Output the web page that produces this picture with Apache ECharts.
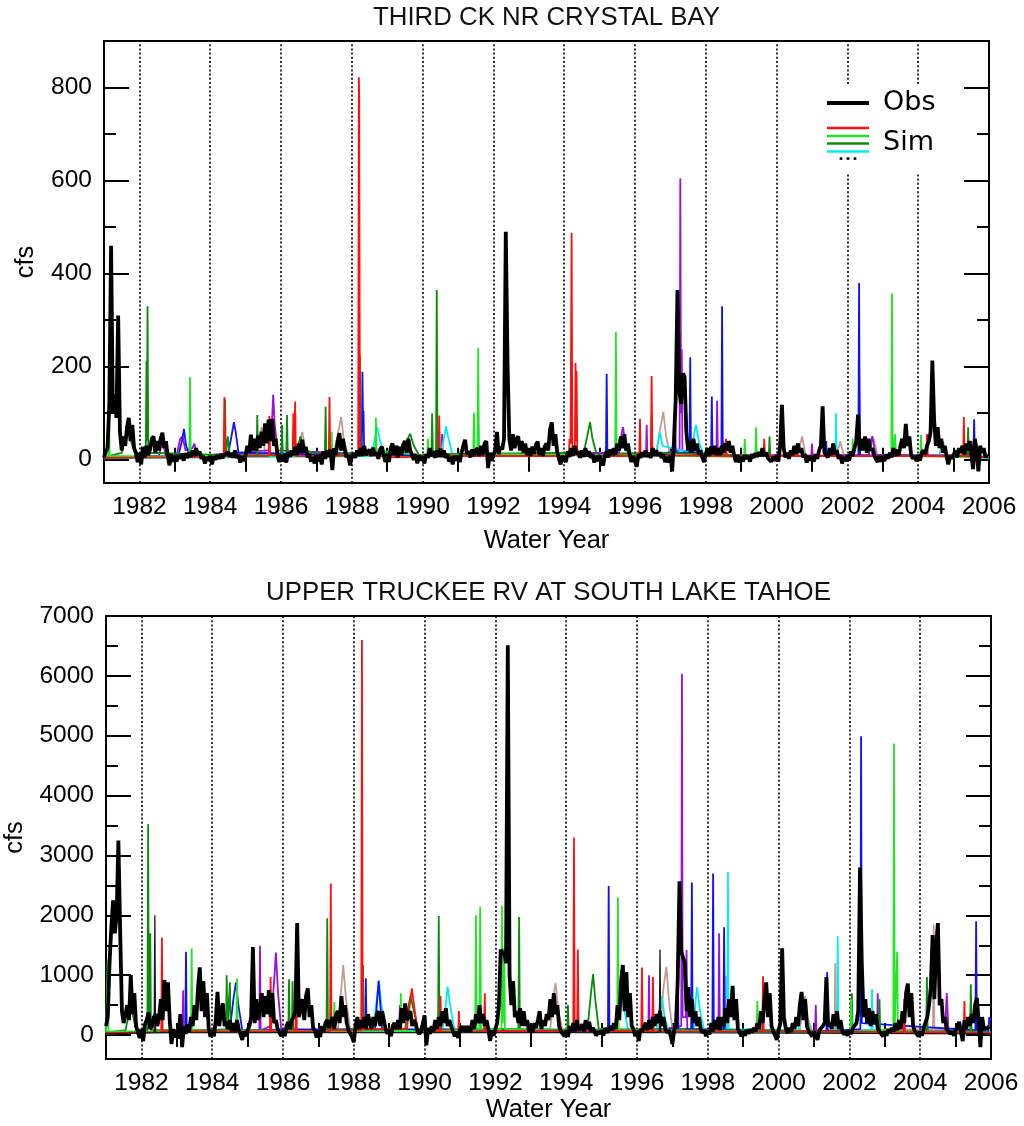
<!DOCTYPE html>
<html>
<head>
<meta charset="utf-8">
<title>Streamflow: observed vs simulated</title>
<script src="https://cdn.jsdelivr.net/npm/echarts@6/dist/echarts.min.js"></script>
<style>
  html, body { margin: 0; padding: 0; background: #fff; }
  #chart { width: 1024px; height: 1126px; }
</style>
</head>
<body>
<div id="chart"></div>
<script>
// ---- axis ticks and labels ----
const yearLabels = [1982, 1984, 1986, 1988, 1990, 1992, 1994, 1996, 1998, 2000, 2002, 2004, 2006];
const oddYearTicks = [1983, 1985, 1987, 1989, 1991, 1993, 1995, 1997, 1999, 2001, 2003, 2005];
const dividerYears = [1982, 1984, 1986, 1988, 1990, 1992, 1994, 1996, 1998, 2000, 2002, 2004];
const crystalMajorTicks = [0, 200, 400, 600, 800];
const crystalMinorTicks = [100, 300, 500, 700];
const truckeeMajorTicks = [0, 1000, 2000, 3000, 4000, 5000, 6000, 7000];
const truckeeMinorTicks = [500, 1500, 2500, 3500, 4500, 5500, 6500];

// ---- observed flow (cfs), 20 samples per water year from 1981 ----
const obsCrystal = [
  5, 18, 25, 120, 460, 100, 140, 90, 310, 60, 20, 50, 30, 70, 90, 40, 75, 25, 15, -5,
  15, -10, 28, 5, 30, 10, 22, 45, 50, 15, 40, 20, 45, 58, 25, 40, 8, -12, 12, -4,
  8, -4, 10, 2, 12, -2, 14, 4, 16, 6, 20, 8, 25, 10, 18, 2, 8, -8, 6, -2,
  8, -10, 8, 0, 10, 2, 12, 4, 10, 6, 16, 6, 14, 5, 20, 4, 10, -6, 8, -3,
  10, 30, 15, 54, 20, 45, 20, 52, 25, 60, 30, 78, 35, 86, 40, 88, 30, 45, 10, -5,
  10, -4, 12, -6, 16, 6, 20, 10, 28, 10, 35, 15, 43, 15, 28, 5, 12, -4, 6, -8,
  10, -4, 12, -10, 18, 2, 20, 6, 22, -22, 25, 10, 40, 57, 20, 45, 22, 5, 10, -12,
  6, 14, 4, 20, 8, 25, 8, 30, 10, 12, 22, 8, 26, 10, 16, 2, 22, 28, 10, -5,
  12, -5, 25, 35, 10, 30, 5, 28, 10, 32, 40, 15, 45, 20, 18, 0, 12, -8, 10, -2,
  8, -8, 12, 4, 25, 8, 18, 4, 20, 6, 24, 6, 20, 4, 12, -4, 6, -10, 8, -2,
  8, -5, 15, 30, 43, 12, 18, 5, 22, 8, 20, 25, 8, 30, 10, 35, 40, -18, 15, -2,
  10, 20, 60, 12, 28, 22, 45, 490, 205, 45, 20, 55, 25, 45, 50, 20, 40, 15, 35, 10,
  20, 8, 28, 12, 32, 39, 10, 25, 8, 28, 35, 20, 65, 80, 30, 55, 18, 2, -10, 8,
  10, -5, 18, 6, 25, 8, 30, 12, 18, 4, 20, 6, 25, 8, 18, 4, 12, -6, 8, -3,
  10, -6, -12, 10, 18, 5, 22, 10, 25, 10, 35, 20, 50, 25, 55, 20, 35, 10, -5, 8,
  10, -15, 12, 4, 16, 6, 20, 6, 15, 4, 25, 8, 20, 8, 16, 4, 12, -5, 6, -6,
  10, -25, 40, 130, 365, 150, 120, 185, 180, 60, 20, 40, 15, 45, 20, 35, 12, 20, 5, -5,
  12, 25, 8, 28, 12, 30, 10, 25, 10, 30, 15, 35, 20, 40, 15, 30, 10, -5, 10, -6,
  6, -4, 10, 2, 8, -4, 12, 4, 14, 6, 16, 8, 25, 8, 16, 4, 8, -4, 6, -2,
  10, -4, 30, 118, 25, 5, 15, 2, 20, 10, 30, 12, 35, 15, 25, 5, 12, -6, 8, -2,
  8, -4, 12, 2, 20, 30, 115, 15, 12, 5, 25, 10, 35, 12, 20, 2, 10, -8, 6, -3,
  10, -2, 18, 8, 25, 40, 97, 20, 45, 20, 50, 15, 45, 20, 25, 10, 12, -5, 8, -4,
  8, -3, 12, 2, 15, 5, 25, 8, 22, 10, 30, 45, 25, 77, 30, 50, 10, 2, 8, -3,
  10, -2, 15, 20, 12, 30, 40, 60, 213, 85, 30, 70, 25, 45, 15, 30, 8, -10, 8, 2,
  10, 20, 5, 25, 15, 30, 12, 35, 20, 40, 15, -20, 45, 20, -25, 30, 15, 25, 5, 12
];

const obsTruckee = [
  150, 300, 1200, 1800, 2250, 1700, 2000, 3250, 1740, 400, 200, 350, 500, 250, 1000, 350, 700, 150, 120, -50,
  100, -100, 180, 250, 380, 100, 150, 300, 350, 150, 300, 600, 250, 920, 400, 880, 250, -150, 100, -40,
  80, -60, 350, -200, 150, 20, 180, 60, 300, 150, 500, 250, 800, 1130, 400, 900, 300, 700, 120, -30,
  80, -20, 250, 720, 150, 400, 530, 150, 220, 100, 250, 60, 200, 60, 250, 100, 80, -80, 60, -20,
  80, 150, 300, 1470, 200, 600, 250, 450, 700, 300, 650, 350, 750, 300, 700, 200, 250, 100, 80, -20,
  80, -20, 150, 220, 100, 250, 300, 400, 1870, 300, 450, 600, 250, 650, 780, 300, 500, 120, 80, -40,
  70, -30, 150, 60, 200, 250, 120, 220, 300, 100, 350, 400, 200, 650, 300, 500, 200, 80, 60, -30,
  -120, 150, 300, 100, 250, 120, 300, 100, 350, 220, 100, 300, 150, 350, 400, 150, 400, 250, 100, 20,
  90, -20, 150, 200, 100, 250, 100, 450, 200, 530, 250, 350, 400, 150, 250, 180, 60, 20, 60, 80,
  330, -170, 120, 20, 150, 60, 250, 100, 300, 150, 400, 200, 450, 150, 250, 150, 60, -20, 60, -50,
  80, 150, 60, 150, 50, 150, 60, 250, 100, 350, 200, 500, 200, 350, 150, 250, 100, -100, 80, -10,
  100, 200, 500, 1430, 1350, 1400, 1200, 6510, 1000, 500, 900, 300, 400, 200, 450, 150, 400, 150, 250, 60,
  100, 40, 200, 120, 250, 400, 100, 250, 150, 350, 250, 600, 300, 700, 350, 500, 150, 60, 80, -20,
  80, -30, 150, 60, 200, 60, 250, 80, 120, 180, 60, 250, 100, 220, 60, 120, 100, -10, 60, 20,
  80, -10, 120, 40, 90, 150, 80, 200, 100, 500, 250, 900, 1170, 400, 1050, 300, 700, 150, 100, -20,
  70, -100, 100, 60, 150, 200, 80, 250, 100, 300, 150, 350, 200, 400, 150, 300, 100, 40, 80, -10,
  -150, 80, 150, 900, 2570, 1400, 1300, 1200, 400, 800, 300, 600, 200, 400, 150, 300, 100, 40, 80, -20,
  70, 10, 200, 60, 250, 100, 300, 80, 300, 150, 450, 200, 600, 300, 820, 250, 600, 100, 80, -20,
  60, -10, 90, 20, 100, 40, 120, 60, 200, 100, 400, 200, 600, 880, 300, 700, 150, 60, 70, -80,
  80, 200, 1450, 300, 120, 30, 120, 50, 200, 100, 300, 150, 500, 720, 250, 600, 150, 60, 80, -20,
  60, -10, -80, 80, 100, 150, 200, 970, 150, 200, 100, 350, 150, 400, 100, 250, 60, 10, 60, -10,
  80, 20, 120, 150, 200, 400, 2800, 1200, 300, 600, 200, 450, 150, 400, 200, 350, 100, 60, 80, -20,
  60, -10, 100, 40, 120, 60, 200, 80, 250, 100, 400, 200, 700, 860, 300, 700, 150, 60, 70, -20,
  60, -10, 120, 150, 300, 500, 800, 1670, 600, 1500, 1870, 500, 600, 200, 300, 100, 120, 20, 60, -10,
  80, 100, 220, 60, -100, 250, 100, 300, 150, 350, 200, 500, 620, 250, -200, 300, 100, 80, 120, 150
];

// ---- simulated flow (cfs), [water year, value] ----
const simCrystalRed = [[1981,4],[1984.38,6],[1984.40,135],[1984.42,8],[1985.65,8],[1985.67,94],[1985.69,10],
  [1986.33,8],[1986.35,100],[1986.37,30],[1986.40,125],[1986.42,8],[1987.35,8],[1987.37,135],[1987.39,8],
  [1988.18,10],[1988.20,822],[1988.21,776],[1988.23,12],[1989.18,5],[1989.20,30],[1989.22,5],
  [1990.45,8],[1990.47,95],[1990.49,8],[1994.13,8],[1994.15,45],[1994.18,35],[1994.21,488],[1994.23,25],
  [1994.30,20],[1994.32,208],[1994.34,40],[1994.35,190],[1994.37,8],[1996.12,8],[1996.14,88],[1996.16,8],
  [1996.45,10],[1996.47,180],[1996.49,10],[1998.55,8],[1998.57,45],[1998.59,8],[1999.63,8],[1999.65,45],[1999.67,8],
  [2004.23,8],[2004.25,55],[2004.27,8],[2005.27,8],[2005.29,92],[2005.31,8],[2006,5]];
const simCrystalLime = [[1981,5],[1981.12,6],[1981.14,96],[1981.16,8],[1983.41,6],[1983.43,178],[1983.45,8],
  [1987.41,8],[1987.43,60],[1987.45,8],[1988.66,10],[1988.68,90],[1988.70,20],[1990.13,8],[1990.15,45],[1990.17,8],
  [1991.43,10],[1991.45,101],[1991.47,12],[1991.55,15],[1991.57,240],[1991.59,12],[1995.44,10],[1995.46,275],[1995.48,10],
  [1999.08,6],[1999.10,45],[1999.12,6],[1999.40,8],[1999.42,70],[1999.44,8],[2002.13,8],[2002.15,45],[2002.17,8],
  [2003.24,8],[2003.26,358],[2003.28,15],[2003.33,12],[2003.35,55],[2003.37,8],[2004.06,8],[2004.08,53],[2004.10,8],[2006,5]];
const simCrystalGreen = [[1981,5],[1981.5,15],[1981.6,45],[1981.7,60],[1981.8,30],[1981.95,8],
  [1982.18,10],[1982.20,213],[1982.21,40],[1982.23,330],[1982.25,15],[1984.41,10],[1984.42,130],[1984.44,10],[1984.5,50],[1984.55,10],
  [1985.31,10],[1985.33,96],[1985.35,10],[1986.01,10],[1986.03,75],[1986.05,10],[1986.15,10],[1986.17,96],[1986.19,15],
  [1986.45,20],[1986.55,50],[1986.65,20],[1987.24,10],[1987.26,114],[1987.28,10],[1988.21,15],[1988.23,224],[1988.25,15],
  [1989.45,12],[1989.55,40],[1989.65,56],[1989.75,30],[1989.9,10],[1990.25,10],[1990.27,100],[1990.29,10],
  [1990.38,12],[1990.40,365],[1990.42,12],[1994.55,15],[1994.65,50],[1994.73,81],[1994.8,45],[1994.92,10],
  [1996.45,15],[1996.47,97],[1996.49,15],[1999.78,8],[1999.80,50],[1999.82,8],[2005.39,8],[2005.41,70],[2005.43,8],[2006,5]];
const simCrystalBlue = [[1981,4],[1983.1,8],[1983.2,40],[1983.26,66],[1983.32,30],[1983.45,6],
  [1984.5,10],[1984.6,50],[1984.67,81],[1984.72,60],[1984.8,15],[1988.28,10],[1988.30,189],[1988.32,60],[1988.33,105],[1988.35,10],
  [1995.18,10],[1995.20,185],[1995.22,10],[1997.11,10],[1997.13,140],[1997.15,15],[1997.54,15],[1997.56,220],[1997.58,15],
  [1998.15,10],[1998.17,136],[1998.19,10],[1998.44,10],[1998.46,330],[1998.48,10],[2001.38,8],[2001.40,40],[2001.42,8],
  [2002.31,10],[2002.33,380],[2002.34,200],[2002.36,10],[2005.33,8],[2005.35,30],[2005.37,8],[2005.56,8],[2005.58,87],[2005.60,8],[2006,5]];
const simCrystalCyan = [[1981,3],[1988.55,8],[1988.65,45],[1988.72,70],[1988.8,40],[1988.95,8],
  [1990.5,8],[1990.6,45],[1990.66,72],[1990.72,50],[1990.85,8],[1991.56,10],[1991.58,75],[1991.60,10],
  [1995.45,10],[1995.55,40],[1995.6,50],[1995.68,35],[1995.8,8],[1996.6,10],[1996.7,60],[1996.78,30],
  [1997.6,15],[1997.68,60],[1997.72,75],[1997.8,40],[1997.95,8],[2001.66,8],[2001.68,100],[2001.70,8],
  [2004.6,10],[2004.7,40],[2004.8,8],[2006,3]];
const simCrystalPurple = [[1981,4],[1982.55,8],[1982.65,40],[1982.75,8],[1983.05,8],[1983.15,45],[1983.22,50],[1983.3,20],
  [1983.5,25],[1983.55,35],[1983.65,8],[1985.65,20],[1985.75,90],[1985.78,140],[1985.82,80],[1985.9,20],
  [1989.2,10],[1989.3,30],[1989.4,10],[1990.53,10],[1990.55,55],[1990.57,10],[1995.55,15],[1995.62,55],[1995.66,70],[1995.72,40],[1995.82,8],
  [1996.31,8],[1996.33,75],[1996.35,8],[1997.26,20],[1997.28,605],[1997.30,100],[1997.32,237],[1997.34,20],
  [1998.30,10],[1998.32,127],[1998.34,10],[2000.98,8],[2001.0,35],[2001.02,8],[2002.6,10],[2002.7,50],[2002.8,10],
  [2005.45,10],[2005.5,40],[2005.55,10],[2006,4]];
const simCrystalBrown = [[1981,4],[1985.3,10],[1985.45,70],[1985.55,15],[1986.45,10],[1986.6,60],[1986.72,10],
  [1987.5,15],[1987.62,60],[1987.7,92],[1987.78,40],[1987.9,8],[1996.6,15],[1996.72,70],[1996.8,103],[1996.88,50],[1997.0,8],
  [1998.4,8],[1998.5,40],[1998.6,8],[2000.6,10],[2000.72,50],[2000.82,10],[2001.7,8],[2001.8,40],[2001.9,8],
  [2002.6,10],[2002.72,50],[2002.85,10],[2006,4]];

const simTruckeeRed = [[1981,30],[1982.56,50],[1982.58,1630],[1982.60,60],[1985.63,60],[1985.65,970],[1985.67,60],
  [1986.35,60],[1986.37,1750],[1986.39,60],[1987.33,60],[1987.35,2530],[1987.37,80],[1988.21,80],[1988.23,6600],[1988.25,100],
  [1989.5,100],[1989.6,600],[1989.64,780],[1989.7,500],[1989.8,100],[1990.43,60],[1990.45,650],[1990.47,60],
  [1990.95,50],[1990.97,400],[1990.99,50],[1991.68,60],[1991.70,700],[1991.72,60],
  [1994.20,80],[1994.22,3300],[1994.24,100],[1994.31,100],[1994.33,1430],[1994.35,80],[1996.12,60],[1996.14,1130],[1996.16,60],
  [1996.43,60],[1996.45,970],[1996.47,60],[1999.54,60],[1999.56,980],[1999.58,60],[2003.53,50],[2003.55,600],[2003.57,50],
  [2005.23,50],[2005.25,570],[2005.27,50],[2006,30]];
const simTruckeeLime = [[1981,40],[1981.03,60],[1981.05,1250],[1981.07,60],[1983.40,60],[1983.42,1450],[1983.44,60],
  [1984.68,80],[1984.70,950],[1984.72,80],[1987.43,60],[1987.45,550],[1987.47,60],[1989.31,60],[1989.33,700],[1989.35,60],
  [1991.43,80],[1991.45,2000],[1991.47,100],[1991.55,100],[1991.57,2140],[1991.59,100],
  [1992.17,100],[1992.19,2160],[1992.21,200],[1992.25,1450],[1992.27,100],[1995.44,80],[1995.46,2300],[1995.48,80],
  [1999.38,60],[1999.40,570],[1999.42,60],[2002.03,50],[2002.05,600],[2002.07,50],
  [2003.24,80],[2003.26,4870],[2003.28,100],[2003.33,100],[2003.35,1390],[2003.37,60],[2006,40]];
const simTruckeeGreen = [[1981,40],[1981.55,80],[1981.7,500],[1981.85,80],[1982.17,80],[1982.19,3520],[1982.21,100],
  [1982.24,100],[1982.25,1700],[1982.27,80],[1984.39,80],[1984.41,1000],[1984.43,100],[1984.48,100],[1984.50,880],[1984.52,80],
  [1986.15,60],[1986.17,930],[1986.19,60],[1986.25,60],[1986.27,900],[1986.29,60],[1987.23,60],[1987.25,1950],[1987.27,80],
  [1988.24,100],[1988.26,1170],[1988.28,100],[1989.45,100],[1989.55,500],[1989.6,650],[1989.68,450],[1989.8,100],
  [1990.38,80],[1990.40,1990],[1990.42,80],[1992.65,100],[1992.67,1970],[1992.69,100],[1994.03,60],[1994.05,500],[1994.07,60],
  [1994.6,100],[1994.7,700],[1994.76,1020],[1994.82,600],[1994.92,100],[2002.05,60],[2002.07,700],[2002.09,60],
  [2002.83,60],[2002.85,600],[2002.87,60],[2004.17,60],[2004.19,970],[2004.21,60],[2005.41,60],[2005.43,850],[2005.45,60],[2006,40]];
const simTruckeeBlue = [[1981,40],[1983.24,60],[1983.26,1390],[1983.28,60],[1984.5,100],[1984.6,600],[1984.67,880],[1984.74,500],[1984.85,80],
  [1988.32,100],[1988.34,950],[1988.36,100],[1988.6,100],[1988.7,900],[1988.8,100],[1995.18,80],[1995.20,2490],[1995.22,80],
  [1997.13,100],[1997.15,1380],[1997.17,100],[1997.53,100],[1997.55,2550],[1997.57,100],[1998.13,80],[1998.15,2700],[1998.17,80],
  [1998.44,80],[1998.46,1800],[1998.48,80],[2001.35,60],[2001.37,1050],[2001.39,60],[2002.31,100],[2002.33,4990],[2002.35,200],
  [2005.56,80],[2005.58,1900],[2005.60,80],[2005.93,60],[2005.95,300],[2006,250]];
const simTruckeeCyan = [[1981,30],[1988.55,100],[1988.65,600],[1988.71,920],[1988.78,500],[1988.9,80],
  [1990.5,80],[1990.6,500],[1990.65,810],[1990.72,500],[1990.85,60],[1991.55,100],[1991.57,1300],[1991.59,100],
  [1995.4,100],[1995.5,600],[1995.55,800],[1995.62,500],[1995.75,80],[1996.55,80],[1996.65,500],[1996.7,650],[1996.78,300],[1996.9,60],
  [1997.6,100],[1997.66,600],[1997.7,800],[1997.78,400],[1997.9,60],[1998.55,100],[1998.57,2720],[1998.59,100],
  [2000.55,80],[2000.65,450],[2000.7,600],[2000.78,300],[2000.9,60],[2001.65,80],[2001.67,1650],[2001.69,80],
  [2002.62,80],[2002.64,770],[2002.66,80],[2006,30]];
const simTruckeePurple = [[1981,30],[1983.16,60],[1983.18,750],[1983.20,60],[1985.33,80],[1985.35,1490],[1985.37,80],
  [1985.65,150],[1985.75,900],[1985.8,1380],[1985.86,700],[1985.95,100],[1989.28,60],[1989.30,500],[1989.32,60],
  [1996.32,60],[1996.34,1000],[1996.36,60],[1997.25,150],[1997.27,6030],[1997.29,300],[1997.38,300],[1997.40,1420],[1997.42,100],
  [1998.30,100],[1998.32,1700],[1998.34,100],[2001.03,50],[2001.05,500],[2001.07,50],[2002.78,60],[2002.80,700],[2002.82,60],
  [2004.7,60],[2004.75,700],[2004.8,60],[2006,30]];
const simTruckeeBrown = [[1981,30],[1987.55,100],[1987.65,800],[1987.7,1170],[1987.78,600],[1987.9,80],
  [1993.55,100],[1993.65,700],[1993.7,870],[1993.78,400],[1993.9,60],[1996.65,100],[1996.75,800],[1996.83,1140],[1996.9,600],[1997.0,80],
  [1998.50,80],[1998.52,990],[1998.54,80],[2000.6,80],[2000.7,500],[2000.75,650],[2000.82,300],[2000.95,60],
  [2001.58,80],[2001.60,1200],[2001.62,80],[2004.36,100],[2004.38,1850],[2004.40,100],[2006,30]];
const simTruckeeGray = [[1981,20],[1982.36,40],[1982.38,2000],[1982.40,40],[1996.63,40],[1996.65,1430],[1996.67,40],[2006,20]];

// ---- rendering ----
const FONT = '"Liberation Sans", Arial, Helvetica, sans-serif';
const START_YEAR = 1981;
const SAMPLES_PER_YEAR = 20;
const toTimeSeries = values => values.map((v, i) => [START_YEAR + i / SAMPLES_PER_YEAR, v]);
const plain = v => String(v);

const COLORS = {
  red: '#ff1010', lime: '#22e622', green: '#0a8c0a', blue: '#1010ff',
  cyan: '#00eeee', purple: '#9a10de', brown: '#c29c94', gray: '#1a1a1a', obs: '#000000'
};

const panels = [
  { title: 'THIRD CK NR CRYSTAL BAY', left: 104, top: 41, width: 885, height: 442,
    yMin: -50, yMax: 900, major: crystalMajorTicks, minor: crystalMinorTicks,
    xNameGap: 45, yNameGap: 65, obs: obsCrystal,
    sims: [['brown', simCrystalBrown], ['purple', simCrystalPurple], ['cyan', simCrystalCyan], ['blue', simCrystalBlue],
           ['green', simCrystalGreen], ['lime', simCrystalLime], ['red', simCrystalRed]] },
  { title: 'UPPER TRUCKEE RV AT SOUTH LAKE TAHOE', left: 106, top: 616, width: 885, height: 443,
    yMin: -400, yMax: 7000, major: truckeeMajorTicks, minor: truckeeMinorTicks,
    xNameGap: 38, yNameGap: 78, obs: obsTruckee,
    sims: [['brown', simTruckeeBrown], ['purple', simTruckeePurple], ['cyan', simTruckeeCyan], ['blue', simTruckeeBlue],
           ['green', simTruckeeGreen], ['lime', simTruckeeLime], ['red', simTruckeeRed], ['gray', simTruckeeGray]] }
];

const tickStyle = { color: '#000', width: 2 };
const labelStyle = { color: '#000', fontSize: 24.5, fontFamily: FONT };
const grids = [], xAxes = [], yAxes = [], series = [], graphics = [];

panels.forEach((p, gi) => {
  grids.push({ left: p.left, top: p.top, width: p.width, height: p.height, show: true,
    borderColor: '#000', borderWidth: 2, backgroundColor: 'transparent', outerBoundsMode: 'none' });

  const xBase = { type: 'value', gridIndex: gi, min: 1981, max: 2006,
    axisLine: { show: false }, splitLine: { show: false } };
  const xi = xAxes.length;
  xAxes.push(Object.assign({}, xBase, { position: 'bottom',
    axisTick: { show: true, inside: true, length: 12, customValues: oddYearTicks, lineStyle: tickStyle },
    axisLabel: Object.assign({ show: true, customValues: yearLabels, margin: 12, formatter: plain }, labelStyle),
    name: 'Water Year', nameLocation: 'middle', nameGap: p.xNameGap,
    nameTextStyle: { color: '#000', fontSize: 25.5, fontFamily: FONT } }));
  xAxes.push(Object.assign({}, xBase, { position: 'top',
    axisTick: { show: true, inside: true, length: 12, customValues: oddYearTicks, lineStyle: tickStyle },
    axisLabel: { show: false } }));

  const yBase = { type: 'value', gridIndex: gi, min: p.yMin, max: p.yMax,
    axisLine: { show: false }, splitLine: { show: false } };
  const yi = yAxes.length;
  yAxes.push(Object.assign({}, yBase, { position: 'left',
    axisTick: { show: true, inside: true, length: 25, customValues: p.major, lineStyle: tickStyle },
    axisLabel: Object.assign({ show: true, customValues: p.major, margin: 12, formatter: plain }, labelStyle),
    name: 'cfs', nameLocation: 'middle', nameGap: p.yNameGap, nameRotate: 90,
    nameTextStyle: { color: '#000', fontSize: 25.5, fontFamily: FONT } }));
  yAxes.push(Object.assign({}, yBase, { position: 'left',
    axisTick: { show: true, inside: true, length: 12, customValues: p.minor, lineStyle: tickStyle },
    axisLabel: { show: false } }));
  yAxes.push(Object.assign({}, yBase, { position: 'right',
    axisTick: { show: true, inside: true, length: 25, customValues: p.major, lineStyle: tickStyle },
    axisLabel: { show: false } }));
  yAxes.push(Object.assign({}, yBase, { position: 'right',
    axisTick: { show: true, inside: true, length: 12, customValues: p.minor, lineStyle: tickStyle },
    axisLabel: { show: false } }));

  p.sims.forEach(([key, data], k) => {
    const s = { type: 'line', name: 'Sim', xAxisIndex: xi, yAxisIndex: yi, data,
      symbol: 'none', silent: true, z: 3 + k,
      lineStyle: { color: COLORS[key], width: key === 'gray' ? 1.3 : 1.8 } };
    if (k === 0) {
      // dotted water-year dividers
      s.markLine = { silent: true, symbol: ['none', 'none'], label: { show: false }, animation: false,
        lineStyle: { color: '#000', width: 1.6, type: [2, 2.2] },
        emphasis: { disabled: true },
        data: dividerYears.map(y => ({ xAxis: y })) };
    }
    series.push(s);
  });
  series.push({ type: 'line', name: 'Obs', xAxisIndex: xi, yAxisIndex: yi, data: toTimeSeries(p.obs),
    symbol: 'none', silent: true, z: 20, lineStyle: { color: COLORS.obs, width: 3.8 } });

  graphics.push({ type: 'text', x: p.left + p.width / 2, y: p.top - 23,
    style: { text: p.title, fill: '#111', font: '25.8px ' + FONT, textAlign: 'center', textVerticalAlign: 'middle' } });
});

// legend block in the upper panel
const LEG_FONT = '27px "DejaVu Sans", "Open Sans", sans-serif';
graphics.push(
  { type: 'rect', shape: { x: 818, y: 86, width: 134, height: 88 }, style: { fill: '#fff' }, z: 100 },
  { type: 'line', shape: { x1: 827, y1: 103, x2: 869, y2: 103 }, style: { stroke: '#000', lineWidth: 4 }, z: 101 },
  { type: 'text', x: 883, y: 103, z: 101, style: { text: 'Obs', fill: '#000', font: LEG_FONT, textVerticalAlign: 'middle' } },
  { type: 'line', shape: { x1: 827, y1: 128, x2: 869, y2: 128 }, style: { stroke: COLORS.red, lineWidth: 2.6 }, z: 101 },
  { type: 'line', shape: { x1: 827, y1: 136, x2: 869, y2: 136 }, style: { stroke: COLORS.lime, lineWidth: 2.6 }, z: 101 },
  { type: 'line', shape: { x1: 827, y1: 143.5, x2: 869, y2: 143.5 }, style: { stroke: COLORS.green, lineWidth: 2.6 }, z: 101 },
  { type: 'line', shape: { x1: 827, y1: 151.5, x2: 869, y2: 151.5 }, style: { stroke: COLORS.cyan, lineWidth: 2.6 }, z: 101 },
  { type: 'circle', shape: { cx: 841, cy: 158.5, r: 1.5 }, style: { fill: '#000' }, z: 101 },
  { type: 'circle', shape: { cx: 848, cy: 158.5, r: 1.5 }, style: { fill: '#000' }, z: 101 },
  { type: 'circle', shape: { cx: 855, cy: 158.5, r: 1.5 }, style: { fill: '#000' }, z: 101 },
  { type: 'text', x: 883, y: 143, z: 101, style: { text: 'Sim', fill: '#000', font: LEG_FONT, textVerticalAlign: 'middle' } }
);

const chart = echarts.init(document.getElementById('chart'), null, { renderer: 'canvas' });
chart.setOption({
  animation: false,
  backgroundColor: '#fff',
  grid: grids,
  xAxis: xAxes,
  yAxis: yAxes,
  series,
  graphic: graphics
});
</script>
</body>
</html>
